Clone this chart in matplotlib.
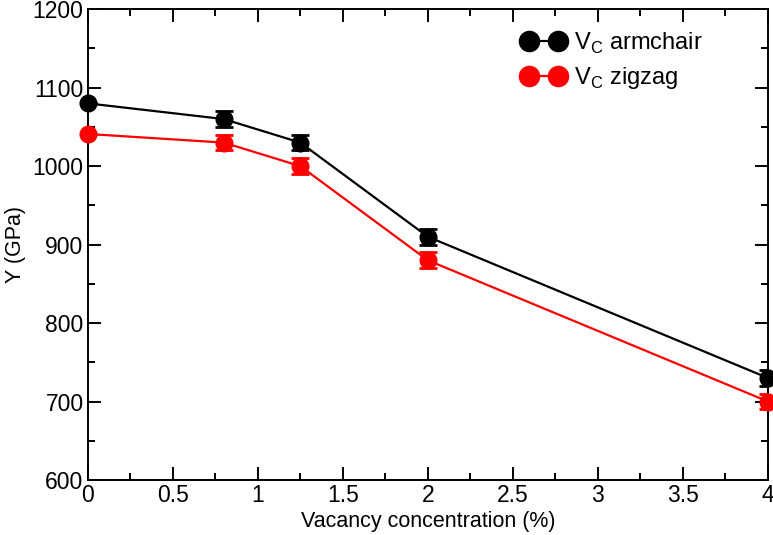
import matplotlib
matplotlib.use("Agg")
import matplotlib.pyplot as plt
from matplotlib.lines import Line2D
from matplotlib.ticker import MultipleLocator

plt.rcParams['font.family'] = ['Liberation Sans', 'DejaVu Sans']
plt.rcParams['mathtext.fontset'] = 'custom'
plt.rcParams['mathtext.rm'] = 'Liberation Sans'

# data
vacancy = [0, 0.8, 1.25, 2, 4]
armchair = [1080, 1060, 1030, 910, 730]
armchair_err = [0, 10, 10, 10, 10]
zigzag = [1041, 1030, 1000, 880, 700]
zigzag_err = [0, 10, 10, 10, 10]
xtick_labels = ['0', '0.5', '1', '1.5', '2', '2.5', '3', '3.5', '4']

fig = plt.figure(figsize=(7.73, 5.35), dpi=100)
ax = fig.add_axes([0.1135, 0.1028, 0.880, 0.880])

for y, err, col in [(armchair, armchair_err, 'black'), (zigzag, zigzag_err, 'red')]:
    ax.plot(vacancy, y, color=col, linewidth=1.6, zorder=2)
    ax.errorbar(vacancy, y, yerr=err, color=col, fmt='none', elinewidth=1.6,
                capsize=6.5, capthick=2, zorder=3)
    ax.plot(vacancy, y, color=col, linestyle='none', marker='o', markersize=12,
            clip_on=False, zorder=4)

ax.set_xlim(0, 4)
ax.set_ylim(600, 1200)
ax.set_xticks([0, 0.5, 1, 1.5, 2, 2.5, 3, 3.5, 4])
ax.set_xticklabels(xtick_labels)
ax.xaxis.set_minor_locator(MultipleLocator(0.25))
ax.yaxis.set_major_locator(MultipleLocator(100))
ax.yaxis.set_minor_locator(MultipleLocator(50))
ax.tick_params(which='both', direction='in', top=True, right=True, labelsize=16.5, width=1.4)
ax.tick_params(axis='x', pad=3)
ax.tick_params(axis='y', pad=3)
ax.tick_params(which='major', length=9.5)
ax.tick_params(which='minor', length=5)
for s in ax.spines.values():
    s.set_linewidth(1.4)

ax.set_xlabel('Vacancy concentration (%)', fontsize=15.5, labelpad=3)
ax.set_ylabel('Y (GPa)', fontsize=15.5, labelpad=5)

handles = [Line2D([], [], color='black', marker='o', markersize=14.5, linewidth=1.6),
           Line2D([], [], color='red', marker='o', markersize=14.5, linewidth=1.6)]
labels = [r'V$_\mathrm{C}$ armchair', r'V$_\mathrm{C}$ zigzag']
ax.legend(handles, labels, loc='upper right', bbox_to_anchor=(0.935, 1.0), frameon=False,
          numpoints=2, fontsize=17, handlelength=1.85, handletextpad=0.35, labelspacing=0.4)

fig.savefig('out.png', dpi=100)
